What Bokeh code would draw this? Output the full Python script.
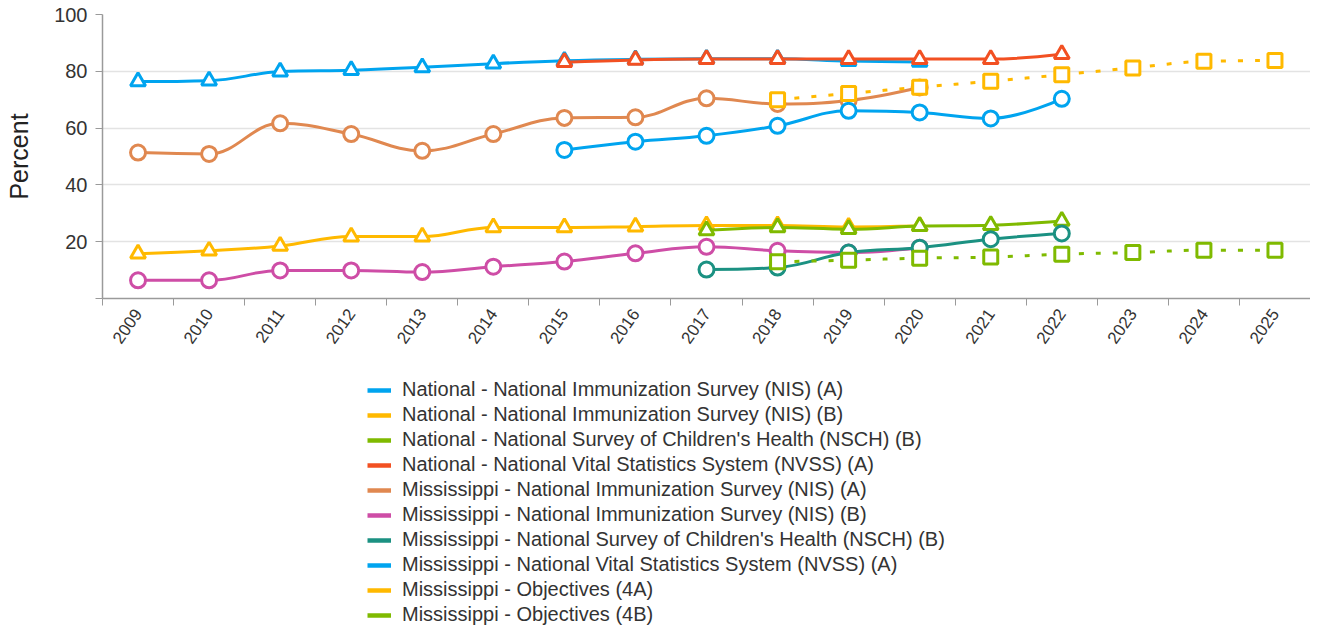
from bokeh.plotting import figure
from bokeh.layouts import column
from bokeh.models import (Range1d, FixedTicker, Legend, LegendItem, ColumnDataSource)
from bokeh.embed import file_html
from bokeh.resources import INLINE

# ---------------- data ----------------
years_all = list(range(2009, 2026))

nat_nis_a_years = list(range(2009, 2021))
nat_nis_a = [76.4, 76.7, 79.9, 80.4, 81.4, 82.7, 83.7, 84.2, 84.4, 84.4, 83.6, 83.3]

nat_nis_b_years = list(range(2009, 2021))
nat_nis_b = [15.8, 16.8, 18.5, 21.8, 21.8, 25.0, 25.0, 25.3, 25.7, 25.7, 25.2, 25.5]

nat_nsch_b_years = list(range(2017, 2023))
nat_nsch_b = [24.0, 25.0, 24.4, 25.5, 25.8, 27.3]

nat_nvss_a_years = list(range(2015, 2023))
nat_nvss_a = [83.2, 84.0, 84.3, 84.3, 84.3, 84.3, 84.3, 86.0]

ms_nis_a_years = list(range(2009, 2021))
ms_nis_a = [51.4, 50.9, 61.7, 57.9, 52.0, 57.9, 63.6, 63.8, 70.5, 68.5, 69.7, 74.3]

ms_nis_b_years = list(range(2009, 2021))
ms_nis_b = [6.4, 6.4, 9.9, 9.9, 9.3, 11.2, 13.0, 15.9, 18.2, 16.8, 16.2, 17.9]

ms_nsch_b_years = list(range(2017, 2023))
ms_nsch_b = [10.2, 10.9, 16.2, 17.9, 20.9, 22.9]

ms_nvss_a_years = list(range(2015, 2023))
ms_nvss_a = [52.3, 55.2, 57.3, 60.8, 66.1, 65.5, 63.4, 70.3]

ms_obj_4a_years = list(range(2018, 2026))
ms_obj_4a = [70.0, 72.2, 74.4, 76.5, 78.8, 81.2, 83.5, 83.8]

ms_obj_4b_years = list(range(2018, 2026))
ms_obj_4b = [12.9, 13.5, 14.2, 14.6, 15.6, 16.2, 17.0, 17.0]

labels = [
    "National - National Immunization Survey (NIS) (A)",
    "National - National Immunization Survey (NIS) (B)",
    "National - National Survey of Children's Health (NSCH) (B)",
    "National - National Vital Statistics System (NVSS) (A)",
    "Mississippi - National Immunization Survey (NIS) (A)",
    "Mississippi - National Immunization Survey (NIS) (B)",
    "Mississippi - National Survey of Children's Health (NSCH) (B)",
    "Mississippi - National Vital Statistics System (NVSS) (A)",
    "Mississippi - Objectives (4A)",
    "Mississippi - Objectives (4B)",
]

y_ticks = [0, 20, 40, 60, 80, 100]

# ---------------- styles ----------------
BLUE = "#00A4EF"
YELLOW = "#FFB900"
GREEN = "#7FBA00"
RED = "#F25022"
ORANGE = "#E08850"
MAGENTA = "#CE4DA6"
TEAL = "#1B9182"

series = [
    (nat_nis_a_years, nat_nis_a, BLUE, "triangle", None),
    (nat_nis_b_years, nat_nis_b, YELLOW, "triangle", None),
    (nat_nsch_b_years, nat_nsch_b, GREEN, "triangle", None),
    (nat_nvss_a_years, nat_nvss_a, RED, "triangle", None),
    (ms_nis_a_years, ms_nis_a, ORANGE, "circle", None),
    (ms_nis_b_years, ms_nis_b, MAGENTA, "circle", None),
    (ms_nsch_b_years, ms_nsch_b, TEAL, "circle", None),
    (ms_nvss_a_years, ms_nvss_a, BLUE, "circle", None),
    (ms_obj_4a_years, ms_obj_4a, YELLOW, "square", "5 12"),
    (ms_obj_4b_years, ms_obj_4b, GREEN, "square", "5 12"),
]


def spline_segments(xs, ys, smoothing=1.5):
    """Highcharts-style spline control points computed from the data."""
    n = len(xs)
    denom = smoothing + 1
    lc = []
    rc = []
    for i in range(n):
        px, py = xs[i], ys[i]
        lcx, lcy, rcx, rcy = px, py, px, py
        if 0 < i < n - 1:
            lx, ly = xs[i - 1], ys[i - 1]
            nx, ny = xs[i + 1], ys[i + 1]
            lcx = (smoothing * px + lx) / denom
            lcy = (smoothing * py + ly) / denom
            rcx = (smoothing * px + nx) / denom
            rcy = (smoothing * py + ny) / denom
            if rcx != lcx:
                corr = ((rcy - lcy) * (rcx - px)) / (rcx - lcx) + py - rcy
                lcy += corr
                rcy += corr
            if lcy > ly and lcy > py:
                lcy = max(ly, py)
                rcy = 2 * py - lcy
            elif lcy < ly and lcy < py:
                lcy = min(ly, py)
                rcy = 2 * py - lcy
            if rcy > ny and rcy > py:
                rcy = max(ny, py)
                lcy = 2 * py - rcy
            elif rcy < ny and rcy < py:
                rcy = min(ny, py)
                lcy = 2 * py - rcy
        lc.append((lcx, lcy))
        rc.append((rcx, rcy))
    d = dict(x0=[], y0=[], x1=[], y1=[], cx0=[], cy0=[], cx1=[], cy1=[])
    for i in range(1, n):
        d["x0"].append(xs[i - 1]); d["y0"].append(ys[i - 1])
        d["x1"].append(xs[i]); d["y1"].append(ys[i])
        d["cx0"].append(rc[i - 1][0]); d["cy0"].append(rc[i - 1][1])
        d["cx1"].append(lc[i][0]); d["cy1"].append(lc[i][1])
    return d


FONT = "Liberation Sans"
TEXT = "#333333"
AXIS = "#9a9a9a"

# ---------------- main chart ----------------
p = figure(width=1310, height=358, output_backend="svg", toolbar_location=None,
           x_range=Range1d(years_all[0] - 0.5, years_all[-1] + 0.5),
           y_range=Range1d(0, 100),
           min_border_left=102, min_border_right=0, min_border_top=14,
           min_border_bottom=60)
p.outline_line_color = None
p.background_fill_color = "white"

# x axis: labels at category centres, tick marks between categories
p.xaxis.ticker = FixedTicker(ticks=years_all,
                             minor_ticks=[y - 0.5 for y in years_all] + [years_all[-1] + 0.5])
p.xaxis.major_tick_line_color = None
p.xaxis.minor_tick_line_color = AXIS
p.xaxis.minor_tick_out = 7
p.xaxis.minor_tick_in = 0
p.xaxis.axis_line_color = AXIS
p.xaxis.axis_line_width = 1.5
p.xaxis.major_label_orientation = 0.96
p.xaxis.major_label_text_font = FONT
p.xaxis.major_label_text_font_size = "17px"
p.xaxis.major_label_text_color = TEXT
p.xaxis.major_label_standoff = 5
p.xgrid.grid_line_color = None

p.yaxis.ticker = FixedTicker(ticks=y_ticks)
p.yaxis.major_label_overrides = {0: ""}
p.yaxis.minor_tick_line_color = None
p.yaxis.major_tick_out = 7
p.yaxis.major_tick_in = 0
p.yaxis.major_tick_line_color = AXIS
p.yaxis.axis_line_color = AXIS
p.yaxis.axis_line_width = 1.5
p.yaxis.major_label_text_font = FONT
p.yaxis.major_label_text_font_size = "20px"
p.yaxis.major_label_text_color = TEXT
p.yaxis.major_label_standoff = 8
p.yaxis.axis_label = "Percent"
p.yaxis.axis_label_text_font = FONT
p.yaxis.axis_label_text_font_size = "25px"
p.yaxis.axis_label_text_font_style = "normal"
p.yaxis.axis_label_text_color = "#222222"
p.yaxis.axis_label_standoff = 18
p.ygrid.grid_line_color = "#e3e3e3"
p.ygrid.grid_line_width = 1.5

for (xs, ys, color, marker, dash) in series:
    src = ColumnDataSource(spline_segments(xs, ys))
    kw = dict(line_color=color, line_width=3)
    if dash:
        kw["line_dash"] = dash
    p.bezier(x0="x0", y0="y0", x1="x1", y1="y1", cx0="cx0", cy0="cy0",
             cx1="cx1", cy1="cy1", source=src, **kw)
    size = 15 if marker in ("circle", "triangle") else 14
    p.scatter(xs, ys, marker=marker, size=size, fill_color="white",
              line_color=color, line_width=3)

# ---------------- legend strip ----------------
# the series are re-drawn here outside the visible range; only the legend shows
lg = figure(width=1310, height=268, output_backend="svg", toolbar_location=None,
            x_range=Range1d(0, 1), y_range=Range1d(0, 1),
            x_axis_type=None, y_axis_type=None,
            min_border_left=0, min_border_right=0, min_border_top=0,
            min_border_bottom=0)
lg.outline_line_color = None
lg.xgrid.grid_line_color = None
lg.ygrid.grid_line_color = None

items = []
for (xs, ys, color, marker, dash), lab in zip(series, labels):
    lr = lg.line(x=xs, y=ys, line_color=color, line_width=4.5)
    items.append(LegendItem(label=lab, renderers=[lr]))

legend = Legend(items=items, location=(265, 0), orientation="vertical",
                glyph_width=24, glyph_height=22, label_height=22, spacing=2,
                label_standoff=11, padding=0, margin=0,
                border_line_color=None, background_fill_alpha=0,
                label_text_font=FONT, label_text_font_size="20px",
                label_text_color=TEXT)
lg.add_layout(legend, "center")

layout = column(p, lg, spacing=0)
open("out.html", "w").write(file_html(layout, INLINE))
